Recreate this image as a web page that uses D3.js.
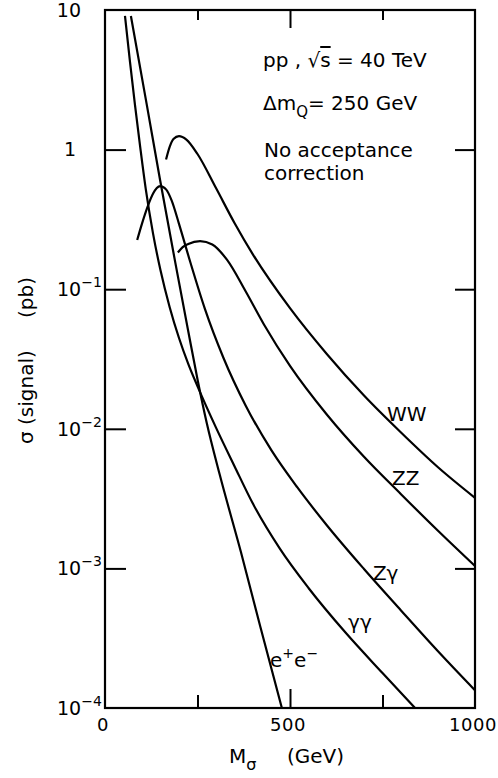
<!DOCTYPE html>
<html>
<head>
<meta charset="utf-8">
<script src="https://cdn.jsdelivr.net/npm/d3@7"></script>
<style>
  body { margin: 0; background: #fff; }
  svg { display: block; font-family: "DejaVu Sans", sans-serif; }
</style>
</head>
<body>
<svg id="chart" width="498" height="778"></svg>
<script>
/* Values: mass in GeV, cross section in pb */
const massWW = [165, 175, 185, 200, 220, 250, 300, 350, 400, 500, 600, 700, 800, 900, 1000];
const sigmaWW = [0.85, 1.05, 1.19, 1.25, 1.18, 0.93, 0.53, 0.298, 0.177, 0.0731, 0.0342, 0.0173, 0.0094, 0.0053, 0.0032];

const massZZ = [197, 210, 225, 257, 290, 330, 380, 430, 500, 600, 700, 800, 900, 1000];
const sigmaZZ = [0.183, 0.2, 0.211, 0.221, 0.209, 0.162, 0.0966, 0.0556, 0.0282, 0.0126, 0.0063, 0.0034, 0.00186, 0.00104];

const massZG = [87, 100, 115, 130, 140, 149, 165, 180, 200, 230, 270, 320, 380, 450, 520, 600, 700, 800, 900, 1000];
const sigmaZG = [0.225, 0.295, 0.389, 0.484, 0.531, 0.548, 0.519, 0.433, 0.294, 0.158, 0.0723, 0.0323, 0.0147, 0.007, 0.0038, 0.00203, 0.00099, 0.0005, 0.000255, 0.000134];

const massGG = [54, 67, 81, 95, 110, 130, 150, 175, 200, 225, 251, 300, 350, 400, 473, 550, 650, 750, 838];
const sigmaGG = [9.06, 4.37, 2.09, 1.05, 0.525, 0.249, 0.1365, 0.074, 0.0447, 0.0292, 0.0199, 0.0102, 0.0054, 0.0029, 0.00138, 0.000724, 0.000347, 0.000178, 0.0001];

const massEE = [70, 113, 149, 190, 225, 251, 275, 310, 367, 420, 478];
const sigmaEE = [9.06, 2.09, 0.603, 0.155, 0.050, 0.0219, 0.011, 0.0047, 0.00132, 0.00038, 0.0001];

// Curve labels, placed in data coordinates (mass, sigma at baseline)
const labelMass = [762, 776, 724, 657, 446];
const labelSigma = [0.0114, 0.00395, 0.00083, 0.00037, 0.000197];

// Axis ticks
const yTickValues = [10, 1, 0.1, 0.01, 0.001, 0.0001];
const yTickBases = ["10", "1", "10", "10", "10", "10"];
const yTickExps = ["", "", "\u22121", "\u22122", "\u22123", "\u22124"];
const xTickValues = [250, 500, 750];
const xLabelValues = [0, 500, 1000];

/* Drawing */
const svg = d3.select("#chart");
const x = d3.scaleLinear().domain([0, 1000]).range([105, 475]);
const y = d3.scaleLog().domain([1e-4, 10]).range([708, 10]);

const series = [
  { mass: massWW, sigma: sigmaWW },
  { mass: massZZ, sigma: sigmaZZ },
  { mass: massZG, sigma: sigmaZG },
  { mass: massGG, sigma: sigmaGG },
  { mass: massEE, sigma: sigmaEE }
];

const line = d3.line()
  .x(d => x(d[0]))
  .y(d => y(d[1]))
  .curve(d3.curveMonotoneX);

svg.append("g")
  .selectAll("path")
  .data(series)
  .join("path")
  .attr("d", s => line(s.mass.map((m, i) => [m, s.sigma[i]])))
  .attr("fill", "none")
  .attr("stroke", "#000")
  .attr("stroke-width", 2.2)
  .attr("stroke-linejoin", "round");

// Frame
svg.append("rect")
  .attr("x", x(0))
  .attr("y", y(10))
  .attr("width", x(1000) - x(0))
  .attr("height", y(1e-4) - y(10))
  .attr("fill", "none")
  .attr("stroke", "#000")
  .attr("stroke-width", 2.2);

// Inward ticks on all four sides
function styleAxis(g) {
  g.select(".domain").remove();
  g.selectAll("line").attr("stroke", "#000").attr("stroke-width", 2);
}
const innerDecades = yTickValues.slice(1, -1);
svg.append("g")
  .attr("transform", `translate(${x(0)},0)`)
  .call(d3.axisLeft(y).tickValues(innerDecades).tickSize(-21).tickFormat(""))
  .call(styleAxis);
svg.append("g")
  .attr("transform", `translate(${x(1000)},0)`)
  .call(d3.axisRight(y).tickValues(innerDecades).tickSize(-20).tickFormat(""))
  .call(styleAxis);
svg.append("g")
  .attr("transform", `translate(0,${y(1e-4)})`)
  .call(d3.axisBottom(x).tickValues(xTickValues).tickSize(-13).tickFormat(""))
  .call(styleAxis)
  .selectAll(".tick line")
  .attr("y2", d => d === 500 ? -19 : -13);
svg.append("g")
  .attr("transform", `translate(0,${y(10)})`)
  .call(d3.axisTop(x).tickValues(xTickValues).tickSize(-10).tickFormat(""))
  .call(styleAxis)
  .selectAll(".tick line")
  .attr("y2", d => d === 500 ? 18 : 10);

// Y tick labels with superscript exponents
const yLabels = svg.append("g").attr("font-size", 19);
yTickValues.forEach((v, i) => {
  const t = yLabels.append("text")
    .attr("y", y(v))
    .attr("dy", "0.36em");
  if (yTickExps[i]) {
    t.attr("x", 57).attr("text-anchor", "start");
    t.append("tspan").text(yTickBases[i]);
    t.append("tspan").attr("font-size", 14).attr("dy", -9).text(yTickExps[i]);
  } else {
    t.attr("x", v === 1 ? 76 : 81).attr("text-anchor", "end").text(yTickBases[i]);
  }
});

// X tick labels
svg.append("g")
  .attr("font-size", 18)
  .attr("letter-spacing", 0.5)
  .selectAll("text")
  .data(xLabelValues)
  .join("text")
  .attr("x", d => x(d) - 2)
  .attr("y", 731)
  .attr("text-anchor", "middle")
  .text(d => d);

// Axis titles
const xTitle = svg.append("text").attr("x", 229).attr("y", 763).attr("font-size", 20);
xTitle.append("tspan").text("M");
xTitle.append("tspan").attr("font-size", 16).attr("dy", 7).text("\u03c3");
xTitle.append("tspan").attr("dy", -7).attr("x", 287).text("(GeV)");

svg.append("text")
  .attr("transform", "translate(33,444) rotate(-90)")
  .attr("font-size", 20)
  .text("\u03c3 (signal)");
svg.append("text")
  .attr("transform", "translate(33,318) rotate(-90)")
  .attr("font-size", 20)
  .text("(pb)");

// Annotation block
const note = svg.append("g").attr("font-size", 20);
const l1 = note.append("text").attr("x", 263).attr("y", 67);
l1.append("tspan").text("pp ,  \u221a");
l1.append("tspan").attr("text-decoration", "overline").text("s");
l1.append("tspan").text(" = 40 TeV");
const l2 = note.append("text").attr("x", 263).attr("y", 110);
l2.append("tspan").text("\u0394m");
l2.append("tspan").attr("font-size", 15).attr("dy", 7).text("Q");
l2.append("tspan").attr("dy", -7).text("= 250 GeV");
note.append("text").attr("x", 264).attr("y", 157).text("No acceptance");
note.append("text").attr("x", 264).attr("y", 180).text("correction");

// Curve labels
const curveLabels = svg.append("g").attr("font-size", 20);
const labelTexts = ["WW", "ZZ", "Z\u03b3", "\u03b3\u03b3"];
labelTexts.forEach((s, i) => {
  curveLabels.append("text")
    .attr("x", x(labelMass[i]))
    .attr("y", y(labelSigma[i]))
    .text(s);
});
const ee = curveLabels.append("text")
  .attr("x", x(labelMass[4]))
  .attr("y", y(labelSigma[4]));
ee.append("tspan").text("e");
ee.append("tspan").attr("font-size", 14).attr("dy", -9).text("+");
ee.append("tspan").attr("dy", 9).text("e");
ee.append("tspan").attr("font-size", 14).attr("dy", -9).text("\u2212");
</script>
</body>
</html>
